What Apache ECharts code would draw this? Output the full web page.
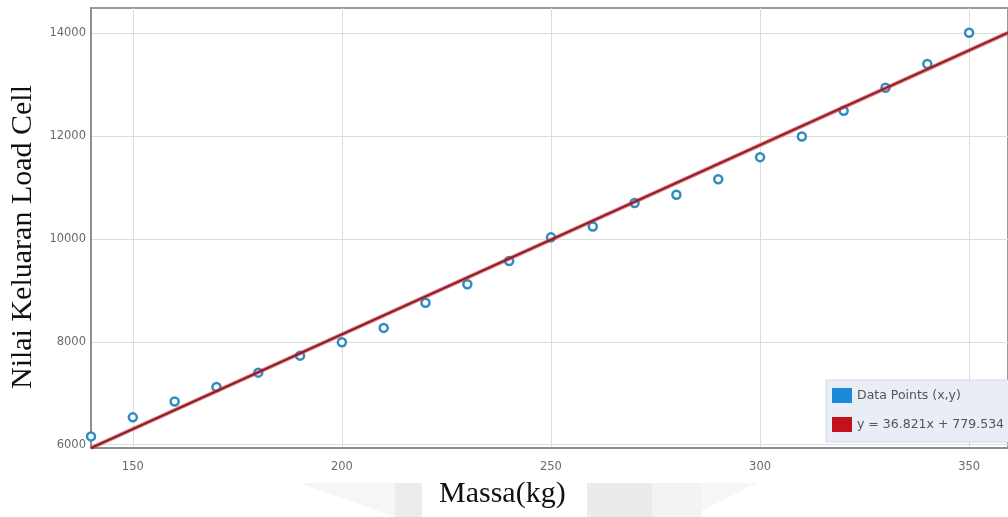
<!DOCTYPE html>
<html><head><meta charset="utf-8">
<script src="https://cdn.jsdelivr.net/npm/echarts@6/dist/echarts.min.js"></script>
<style>html,body{margin:0;padding:0;background:#fff}#c{width:1008px;height:517px}</style>
</head><body><div id="c"></div>
<script>
// Data
const massa = [140,150,160,170,180,190,200,210,220,230,240,250,260,270,280,290,300,310,320,330,340,350];
const nilai = [6160,6530,6840,7120,7400,7730,7990,8270,8760,9120,9570,10030,10240,10700,10860,11160,11590,11990,12490,12940,13400,14010];
const xTicks = [150,200,250,300,350];
const yTicks = [6000,8000,10000,12000,14000];
const slope = 36.821;
const intercept = 779.534;
const xRange = [140, 359.3];
const yRange = [5934.5, 14490];
const seriesName = 'Data Points (x,y)';
const fitName = 'y = 36.821x + 779.534';
const xTitle = 'Massa(kg)';
const yTitle = 'Nilai Keluaran Load Cell';

const points = massa.map((m, i) => [m, nilai[i]]);
const fitLine = xRange.map(x => [x, slope * x + intercept]);

const chart = echarts.init(document.getElementById('c'), null, {renderer: 'canvas'});
const labelFont = 'DejaVu Sans';
chart.setOption({
  animation: false,
  backgroundColor: '#ffffff',
  grid: {left: 91, right: -4, top: 8, bottom: 69, show: true, borderColor: '#9a9a9a', borderWidth: 2},
  xAxis: {
    type: 'value', min: xRange[0], max: xRange[1],
    axisLine: {show: true, lineStyle: {color: '#8f8f8f', width: 2}},
    axisTick: {show: false, customValues: xTicks},
    axisLabel: {customValues: xTicks, formatter: v => String(v), color: '#6a6a6a', fontSize: 11.5, fontFamily: labelFont, margin: 13},
    splitLine: {show: true, lineStyle: {color: '#dcdcdc', width: 1}}
  },
  yAxis: {
    type: 'value', min: yRange[0], max: yRange[1],
    axisLine: {show: true, lineStyle: {color: '#8f8f8f', width: 2}},
    axisTick: {show: false, customValues: yTicks},
    axisLabel: {customValues: yTicks, formatter: v => String(v), color: '#6a6a6a', fontSize: 11.5, fontFamily: labelFont, margin: 5},
    splitLine: {show: true, lineStyle: {color: '#dcdcdc', width: 1}}
  },
  legend: {
    orient: 'vertical', left: 826, top: 380,
    itemWidth: 20, itemHeight: 15, itemGap: 14,
    padding: [8, 10, 10, 6],
    backgroundColor: '#e8edf6', borderColor: '#d3d9e4', borderWidth: 1,
    textStyle: {color: '#555555', fontSize: 12.5, fontFamily: labelFont},
    data: [
      {name: seriesName, icon: 'rect', itemStyle: {color: '#1c8ad8', borderWidth: 0}},
      {name: fitName, icon: 'rect', itemStyle: {color: '#c4121c'}}
    ]
  },
  graphic: [
    {type: 'polygon', silent: true, z: -1, shape: {points: [[300,483],[395,483],[395,517]]}, style: {fill: '#f6f6f6'}},
    {type: 'rect', silent: true, z: -1, shape: {x: 395, y: 483, width: 27, height: 34}, style: {fill: '#ececec'}},
    {type: 'rect', silent: true, z: -1, shape: {x: 587, y: 483, width: 65, height: 34}, style: {fill: '#ebebeb'}},
    {type: 'rect', silent: true, z: -1, shape: {x: 652, y: 483, width: 50, height: 34}, style: {fill: '#f3f3f3'}},
    {type: 'polygon', silent: true, z: -1, shape: {points: [[702,483],[757,483],[702,510]]}, style: {fill: '#f7f7f7'}},
    {type: 'text', left: 439, top: 479, style: {text: xTitle, font: '30px "Liberation Serif"', fill: '#111111'}},
    {type: 'text', x: 8, y: 237, rotation: Math.PI / 2, style: {text: yTitle, font: '30px "Liberation Serif"', fill: '#111111', align: 'center', verticalAlign: 'top'}}
  ],
  series: [
    {
      name: seriesName, type: 'scatter', data: points, z: 3,
      symbol: 'circle', symbolSize: 8,
      itemStyle: {color: '#ffffff', borderColor: '#2e8cc0', borderWidth: 2.5, opacity: 1}
    },
    {
      name: fitName + ' ', type: 'line', data: fitLine, z: 4, symbol: 'none',
      lineStyle: {color: '#e0353d', width: 4, opacity: 0.75}
    },
    {
      name: fitName, type: 'line', data: fitLine, z: 5, symbol: 'none',
      itemStyle: {color: '#c4121c'},
      lineStyle: {color: '#6e1d28', width: 1.6}
    }
  ]
});
</script>
</body></html>
